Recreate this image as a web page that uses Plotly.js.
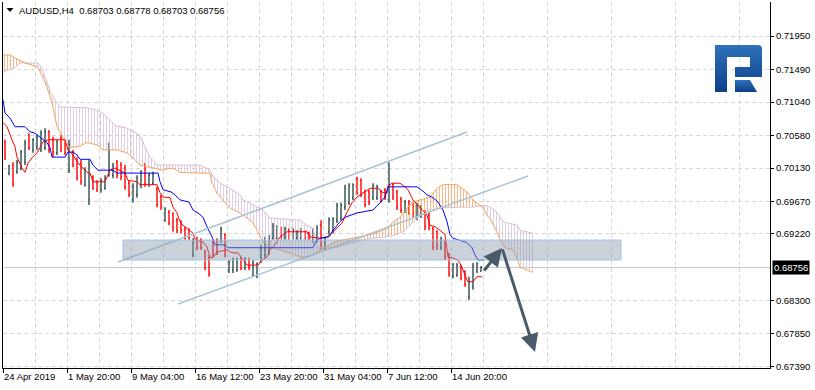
<!DOCTYPE html>
<html>
<head>
<meta charset="utf-8">
<script src="https://cdn.plot.ly/plotly-3.0.1.min.js"></script>
<style>html,body{margin:0;padding:0;background:#fff;}#chart{width:815px;height:390px;}</style>
</head>
<body>
<div id="chart"></div>
<script>
// ---- data (H4 bars, bar index units) ----
const barOpen = [
.7049,.7006,.7017,.7008,.7013,.7021,.7059,.7038,.7042,.7038,
.7041,.7063,.7052,.7034,.7054,.7049,.7010,.7035,.7024,.7020,
.6990,.6969,.7001,.6994,.6983,.6985,.7003,.7003,.7021,.7017,
.7013,.6992,.6969,.6976,.6990,.7017,.6990,.6992,.6984,.6973,
.6941,.6952,.6948,.6941,.6939,.6929,.6927,.6893,.6915,.6914,
.6897,.6889,.6910,.6914,.6912,.6921,.6871,.6872,.6872,.6887,
.6875,.6886,.6865,.6864,.6886,.6893,.6897,.6916,.6916,.6929,
.6918,.6927,.6916,.6916,.6916,.6925,.6923,.6914,.6914,.6934,
.6903,.6925,.6926,.6941,.6944,.6959,.6965,.6972,.6998,.6996,
.6980,.6980,.6972,.6972,.6980,.6983,.6969,.6990,.6980,.6970,
.6954,.6966,.6962,.6945,.6947,.6952,.6948,.6929,.6925,.6903,
.6911,.6893,.6864,.6865,.6876,.6870,.6835,.6849,.6871,.68703];
const barHigh = [
.7052,.7017,.7021,.7024,.7038,.7052,.7061,.7054,.7059,.7065,
.7068,.7065,.7056,.7052,.7059,.7052,.7052,.7038,.7028,.7024,
.7014,.7024,.7003,.6996,.6999,.7003,.7048,.7020,.7024,.7021,
.7017,.6996,.6992,.7003,.7010,.7020,.7006,.7008,.6987,.6976,
.6959,.6955,.6952,.6944,.6941,.6932,.6930,.6916,.6918,.6916,
.6900,.6893,.6914,.6916,.6932,.6923,.6886,.6889,.6889,.6890,
.6890,.6889,.6886,.6883,.6907,.6918,.6921,.6937,.6934,.6932,
.6932,.6930,.6930,.6927,.6930,.6927,.6925,.6930,.6934,.6941,
.6918,.6945,.6945,.6965,.6965,.6990,.6992,.6992,.7001,.6999,
.6983,.6983,.6992,.6990,.6983,.6985,.7021,.6992,.6983,.6973,
.6969,.6969,.6965,.6965,.6962,.6955,.6952,.6932,.6927,.6918,
.6914,.6896,.6882,.6882,.6879,.6872,.6863,.6882,.6883,.68778];
const barLow = [
.7024,.7003,.6987,.7005,.7010,.7017,.7038,.7034,.7038,.7035,
.7038,.7034,.7028,.7031,.7035,.7031,.7006,.7014,.6996,.6990,
.6987,.6962,.6983,.6980,.6979,.6983,.7001,.6999,.6999,.6996,
.6983,.6973,.6965,.6972,.6985,.6987,.6987,.6990,.6959,.6955,
.6939,.6934,.6925,.6923,.6923,.6914,.6914,.6890,.6900,.6900,
.6872,.6863,.6890,.6893,.6910,.6890,.6868,.6868,.6870,.6872,
.6872,.6872,.6863,.6861,.6882,.6889,.6893,.6914,.6914,.6914,
.6914,.6914,.6914,.6914,.6914,.6914,.6914,.6910,.6910,.6900,
.6900,.6921,.6923,.6937,.6941,.6955,.6962,.6969,.6976,.6973,
.6959,.6962,.6969,.6969,.6965,.6969,.6965,.6969,.6955,.6951,
.6951,.6948,.6945,.6941,.6944,.6927,.6927,.6900,.6900,.6900,
.6886,.6863,.6861,.6863,.6858,.6849,.6831,.6845,.6868,.68703];
const barClose = [
.7028,.7016,.6991,.7021,.7035,.7048,.7041,.7052,.7056,.7061,
.7063,.7038,.7035,.7049,.7038,.7034,.7045,.7017,.6999,.6994,
.7010,.7017,.6985,.6983,.6996,.6999,.7017,.7016,.7003,.7001,
.6987,.6976,.6988,.6999,.7008,.6991,.7003,.7005,.6962,.6959,
.6956,.6937,.6930,.6927,.6927,.6916,.6916,.6914,.6903,.6903,
.6875,.6867,.6893,.6897,.6929,.6893,.6883,.6886,.6883,.6875,
.6887,.6876,.6882,.6881,.6903,.6914,.6916,.6933,.6930,.6918,
.6929,.6916,.6927,.6925,.6926,.6916,.6915,.6927,.6930,.6907,
.6915,.6941,.6943,.6961,.6962,.6985,.6988,.6990,.6979,.6976,
.6962,.6965,.6988,.6987,.6968,.6972,.6990,.6973,.6959,.6955,
.6966,.6952,.6950,.6961,.6959,.6932,.6930,.6904,.6905,.6915,
.6890,.6867,.6879,.6879,.6861,.6852,.6856,.6878,.6881,.68756];

const tenkanX = [0,2,4.5,6,7,9.5,11,12.5,14.5,17,18.5,20,22.5,31,32.5,35,37.5,42,43.5,45,51,53.5,56,61,62.5,67,68.5,77,78.5,80,83.5,85,87,88.5,90,93.5,95,96,100,102,103.5,105,107,112,114.5,117.5,119.5,122,127.5,129.5,132,133.5,136,138.5,142,152,153.5,158.5,162,163.5,167,169.5,172,174.5,177,182,183.5,187.5,190,192,192.5,194.5,198.5,201,202.5,205,208.5,212,213.5,216,218.5,221,222.5,225,227.5,229.5,231,232.5,235,237,239.5];
const tenkanY = [.7076,.7070,.7052,.7042,.7028,.7013,.7007,.7020,.7027,.7034,.7041,.7049,.7052,.7052,.7038,.7031,.7020,.7007,.7006,.6994,.6994,.7010,.7013,.7006,.6996,.6994,.6990,.6990,.6979,.6973,.6972,.6959,.6951,.6939,.6934,.6927,.6923,.6914,.6911,.6904,.6890,.6889,.6897,.6900,.6896,.6896,.6889,.6879,.6879,.6886,.6890,.6900,.6907,.6918,.6925,.6925,.6918,.6916,.6918,.6921,.6930,.6937,.6952,.6965,.6973,.6983,.6985,.6985,.6979,.6979,.6988,.6992,.6992,.6987,.6983,.6969,.6959,.6948,.6934,.6932,.6927,.6921,.6890,.6889,.6886,.6876,.6865,.6856,.6856,.6863,.6863];

const kijunX = [0,1,3.5,6,11,13.5,16,18.5,22,23.5,24.5,31,32.5,35,37,38.5,43.5,45,47.5,55,57,77.5,78.5,80,84,86,88.5,93,95,97.5,100,102,104.5,106,111,112.5,155,156,158.5,163,165,168.5,171,177,185,188.5,191,192.5,207,210,212,215,217.5,220,222,223.5,225,227.5,232,234.5,236,237.5,240.5];
const kijunY = [.7107,.7089,.7082,.7070,.7070,.7063,.7061,.7056,.7048,.7041,.7028,.7028,.7035,.7035,.7031,.7025,.7025,.7017,.7010,.7010,.7006,.7006,.6994,.6983,.6980,.6976,.6969,.6966,.6955,.6951,.6945,.6932,.6918,.6907,.6907,.6903,.6903,.6910,.6916,.6918,.6927,.6939,.6945,.6951,.6955,.6965,.6973,.6987,.6987,.6981,.6976,.6972,.6966,.6955,.6939,.6921,.6916,.6914,.6910,.6903,.6893,.6886,.6886];

const cloudX = [0,3.5,6,8.5,11,14.5,17.5,19.5,22,23.5,25,27,28.5,31,33.5,37.5,42,47,50,52,56,57,62,65,68.5,71,73.5,77,78.5,85,88.5,98.5,103.5,104.5,105,107,108.5,110,112,113.5,117,118.5,120,123.5,125,127,130,133.5,138.5,143.5,148.5,152,155,157,158.5,162,165,167,175,183.5,188,192,195,198.5,200,202,205,208.5,213.5,217,218.5,220,227,229.5,232,235,238.5,240,242,244,246,247,248.5,249.5,251,255,257,258.5,262.5,265];
const spanA = [.7169,.7169,.7165,.7162,.7158,.7155,.7152,.7141,.7125,.7111,.7097,.7070,.7063,.7048,.7042,.7042,.7048,.7045,.7038,.7038,.7038,.7038,.7034,.7027,.7017,.7015,.7014,.7012,.7010,.7013,.7007,.7006,.7006,.6992,.6990,.6978,.6974,.6969,.6962,.6958,.6953,.6951,.6948,.6941,.6937,.6927,.6911,.6904,.6900,.6896,.6890,.6890,.6893,.6897,.6900,.6905,.6910,.6912,.6916,.6921,.6925,.6930,.6938,.6945,.6950,.6958,.6966,.6969,.6973,.6985,.6987,.6990,.6990,.6985,.6980,.6969,.6962,.6958,.6948,.6941,.6930,.6925,.6914,.6910,.6903,.6900,.6889,.6876,.6872,.6869];
const spanB = [.7145,.7149,.7152,.7158,.7158,.7158,.7158,.7150,.7130,.7120,.7111,.7103,.7097,.7097,.7097,.7097,.7096,.7093,.7088,.7083,.7072,.7071,.7068,.7064,.7058,.7042,.7028,.7017,.7017,.7017,.7017,.7017,.7010,.7005,.7001,.6997,.6992,.6990,.6987,.6985,.6979,.6976,.6969,.6964,.6962,.6960,.6955,.6944,.6943,.6942,.6941,.6934,.6930,.6903,.6903,.6903,.6903,.6903,.6910,.6916,.6917,.6918,.6920,.6923,.6925,.6930,.6939,.6948,.6955,.6957,.6958,.6958,.6959,.6959,.6959,.6959,.6961,.6961,.6961,.6958,.6954,.6952,.6946,.6941,.6938,.6935,.6934,.6927,.6924,.6923];

const xTickVals = [0,32,64,96,128,160,192,224];
const xTickText = ['24 Apr 2019','1 May 20:00','9 May 04:00','16 May 12:00','23 May 20:00','31 May 04:00','7 Jun 12:00','14 Jun 20:00'];
const yTickVals = [0.7195,0.7149,0.7104,0.7058,0.7013,0.6967,0.6922,0.6830,0.6785,0.6739];
const yTickText = ['0.71950','0.71490','0.71040','0.70580','0.70130','0.69670','0.69220','0.68300','0.67850','0.67390'];
const lastPrice = 0.68756;
const titleText = 'AUDUSD,H4  0.68703 0.68778 0.68703 0.68756';

// drawings (in bar index / price)
const channelUpper = [[57.5,0.68833],[232,0.70627]];
const channelLower = [[87.5,0.68253],[262.5,0.70020]];
const zoneRect = {x0:60, x1:309, y0:0.68860, y1:0.69136};
const arrowUp = {from:[240,0.68695], to:[249.5,0.69026]};
const arrowDown = {from:[249.5,0.69026], to:[266,0.67591]};

// ---- build ----
const barX = barOpen.map((_, i) => 1 + 2 * i);
const cloudTop = spanA.map((a, i) => Math.max(a, spanB[i]));
const FONT = 'Liberation Sans, Arial, sans-serif';
const THISTLE = '#D8BFD8', SANDY = '#F4A460';
const pat = c => ({shape:'|', fgcolor:c, fgopacity:0.85, bgcolor:'rgba(0,0,0,0)', size:3, solidity:0.3, fillmode:'replace'});

const traces = [
  {x: cloudX, y: spanA, type:'scatter', mode:'lines', line:{width:0}, hoverinfo:'skip', showlegend:false},
  {x: cloudX, y: cloudTop, type:'scatter', mode:'lines', line:{width:0}, fill:'tonexty',
   fillcolor:'rgba(0,0,0,0)', fillpattern:pat(THISTLE), hoverinfo:'skip', showlegend:false},
  {x: cloudX, y: spanB, type:'scatter', mode:'lines', line:{width:0}, hoverinfo:'skip', showlegend:false},
  {x: cloudX, y: cloudTop, type:'scatter', mode:'lines', line:{width:0}, fill:'tonexty',
   fillcolor:'rgba(0,0,0,0)', fillpattern:pat(SANDY), hoverinfo:'skip', showlegend:false},
  {x: cloudX, y: spanB, type:'scatter', mode:'lines', line:{color:THISTLE, width:1}, showlegend:false},
  {x: cloudX, y: spanA, type:'scatter', mode:'lines', line:{color:SANDY, width:1}, showlegend:false},
  {x: barX, open: barOpen, high: barHigh, low: barLow, close: barClose, type:'ohlc',
   increasing:{line:{color:'#2F4F4F', width:1.4}}, decreasing:{line:{color:'#FF0000', width:1.4}},
   tickwidth:0.25, showlegend:false, hoverinfo:'skip'},
  {x: tenkanX, y: tenkanY, type:'scatter', mode:'lines', line:{color:'#FF0000', width:1}, showlegend:false},
  {x: kijunX, y: kijunY, type:'scatter', mode:'lines', line:{color:'#0000FF', width:1}, showlegend:false}
];

const GRID = '#d6d6d6';
const logoSvg = "<svg xmlns='http://www.w3.org/2000/svg' width='47' height='47' viewBox='0 0 47 47'>" +
  "<defs><linearGradient id='g' x1='0' y1='0' x2='0' y2='1'><stop offset='0' stop-color='#2f72bb'/><stop offset='1' stop-color='#0b3f88'/></linearGradient></defs>" +
  "<path fill='url(#g)' d='M0,0 H43 Q47,0 47,4 V32 H20 V22 H35 V12 H12 V47 H0 Z'/>" +
  "<path fill='url(#g)' d='M20,35 H35 L42,47 H20 Z'/></svg>";
const logoSrc = 'data:image/svg+xml;charset=utf-8,' + encodeURIComponent(logoSvg);

const plotL = 3, plotR = 770, plotT = 2, plotB = 368;
const px2paperX = px => (px - plotL) / (plotR - plotL);
const px2paperY = py => (plotB - py) / (plotB - plotT);

const layout = {
  width: 815, height: 390,
  margin: {l: plotL, r: 815 - plotR, t: plotT, b: 390 - plotB, pad: 0},
  paper_bgcolor: '#ffffff', plot_bgcolor: '#ffffff',
  font: {family: FONT, size: 9.5, color: '#000'},
  showlegend: false,
  xaxis: {
    range: [0, 383.5], fixedrange: true,
    tickmode: 'array', tickvals: xTickVals, ticktext: xTickText, tickangle: 0,
    ticks: 'outside', ticklen: 4, tickcolor: '#000', tickwidth: 1,
    ticklabelposition: 'outside right',
    tickfont: {family: FONT, size: 9.5, color: '#000'},
    showline: true, linecolor: '#000', linewidth: 1, mirror: false,
    showgrid: true, gridcolor: GRID, griddash: '4px,3px', gridwidth: 1,
    minor: {tickmode: 'linear', tick0: 16, dtick: 32, showgrid: true, gridcolor: GRID, griddash: '4px,3px', ticks: ''},
    zeroline: false,
    rangeslider: {visible: false}
  },
  yaxis: {
    side: 'right', range: [0.67370, 0.72421], fixedrange: true,
    tickmode: 'array', tickvals: yTickVals, ticktext: yTickText,
    ticks: 'outside', ticklen: 3, tickcolor: '#000', tickwidth: 1,
    tickfont: {family: FONT, size: 9.5, color: '#000'},
    showline: true, linecolor: '#000', linewidth: 1, mirror: true,
    showgrid: true, gridcolor: GRID, griddash: '4px,3px', gridwidth: 1,
    zeroline: false
  },
  shapes: [
    {type:'line', xref:'paper', x0:0, x1:1, yref:'y', y0:lastPrice, y1:lastPrice, line:{color:'#c8c8c8', width:1}, layer:'below'},
    {type:'line', xref:'x', yref:'y', x0:channelUpper[0][0], y0:channelUpper[0][1], x1:channelUpper[1][0], y1:channelUpper[1][1], line:{color:'#a9c4d4', width:1.5}, layer:'above'},
    {type:'line', xref:'x', yref:'y', x0:channelLower[0][0], y0:channelLower[0][1], x1:channelLower[1][0], y1:channelLower[1][1], line:{color:'#a9c4d4', width:1.5}, layer:'above'},
    {type:'rect', xref:'x', yref:'y', x0:zoneRect.x0, x1:zoneRect.x1, y0:zoneRect.y0, y1:zoneRect.y1,
     fillcolor:'rgba(140,155,170,0.45)', line:{color:'#9fc3ec', width:1}, layer:'above'},
    {type:'path', xref:'paper', yref:'paper',
     path:'M '+px2paperX(6.5)+','+px2paperY(8)+' L '+px2paperX(13.5)+','+px2paperY(8)+' L '+px2paperX(10)+','+px2paperY(12)+' Z',
     fillcolor:'#000', line:{width:0}}
  ],
  annotations: [
    {xref:'paper', yref:'paper', x:px2paperX(17), y:px2paperY(3), xanchor:'left', yanchor:'top', showarrow:false,
     text: titleText, font:{family: FONT, size: 9.5, color:'#000'}},
    {xref:'paper', yref:'y', x:1, y:lastPrice, xanchor:'left', yanchor:'middle', xshift:2, showarrow:false,
     text: lastPrice.toFixed(5), bgcolor:'#000', borderpad:1, font:{family: FONT, size: 9.5, color:'#fff'}},
    {xref:'x', yref:'y', axref:'x', ayref:'y', x:arrowUp.to[0], y:arrowUp.to[1], ax:arrowUp.from[0], ay:arrowUp.from[1],
     showarrow:true, arrowhead:2, arrowsize:1.2, arrowwidth:3, arrowcolor:'#4b5a68', text:''},
    {xref:'x', yref:'y', axref:'x', ayref:'y', x:arrowDown.to[0], y:arrowDown.to[1], ax:arrowDown.from[0], ay:arrowDown.from[1],
     showarrow:true, arrowhead:2, arrowsize:1.2, arrowwidth:3, arrowcolor:'#4b5a68', text:''}
  ],
  images: [
    {source: logoSrc, xref:'paper', yref:'paper', x:px2paperX(715), y:px2paperY(45),
     sizex: 47/(plotR-plotL), sizey: 47/(plotB-plotT), xanchor:'left', yanchor:'top', sizing:'stretch', layer:'above'}
  ]
};

Plotly.newPlot('chart', traces, layout, {staticPlot: true, displayModeBar: false});
</script>
</body>
</html>
